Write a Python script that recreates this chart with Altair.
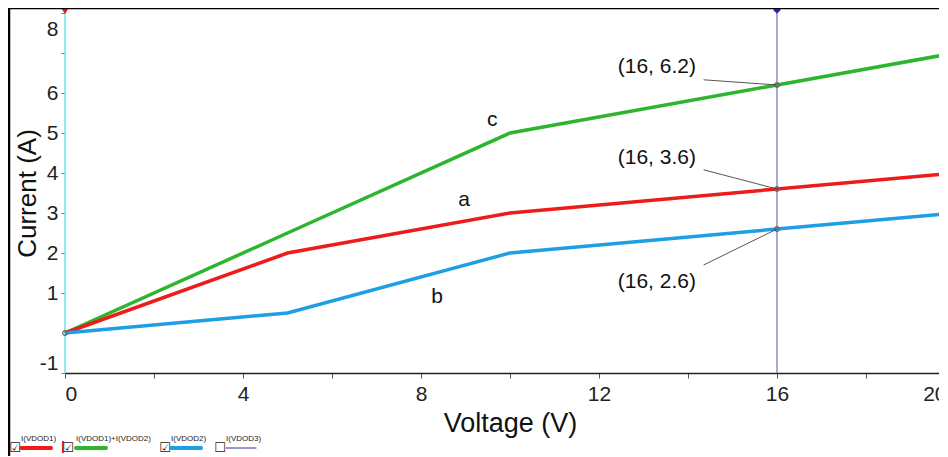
import altair as alt
import pandas as pd

# ---- data ----
voltage = [0, 5, 10, 16, 20]
current_a = [0, 2, 3, 3.6, 4]          # I(VDOD1)  -> curve "a"
current_b = [0, 0.5, 2, 2.6, 3]        # I(VDOD2)  -> curve "b"
current_c = [0, 2.5, 5, 6.2, 7]        # I(VDOD1)+I(VDOD2) -> curve "c"
series_names = ["I(VDOD1)+I(VDOD2)", "I(VDOD1)", "I(VDOD2)"]
series_colors = ["#2db52d", "#ee1b1b", "#1e9ee4"]
x_ticks = [0, 2, 4, 6, 8, 10, 12, 14, 16, 18, 20]
y_ticks = [-1, 1, 2, 3, 4, 5, 6, 7, 8]
cursor_v = [16]

# annotation texts (positions in data units)
ann_text = ["(16, 6.2)", "(16, 3.6)", "(16, 2.6)"]
ann_tx = [13.3, 13.3, 13.3]
ann_ty = [6.65, 4.38, 1.28]
ann_lx = [14.35, 14.35, 14.35]
ann_ly = [6.33, 4.08, 1.70]
ann_px = [16, 16, 16]
ann_py = [6.2, 3.6, 2.6]
curve_labels = ["c", "a", "b"]
curve_lx = [9.6, 8.97, 8.36]
curve_ly = [5.33, 3.33, 0.90]
marker_x = [0, 16, 16, 16]
marker_y = [0, 6.2, 3.6, 2.6]

FONT = "Liberation Sans"
W, H = 890, 360
xs = alt.Scale(domain=[0, 20], nice=False, zero=False)
ys = alt.Scale(domain=[-1, 8], nice=False, zero=False)

series_vals = [current_c, current_a, current_b]
layers = []

# cursor lines
cur0 = alt.Chart(pd.DataFrame({"V": [0]})).mark_rule(color="#6fe3ee", strokeWidth=1.5).encode(
    x=alt.X("V:Q", scale=xs, axis=alt.Axis(
        values=x_ticks, title="Voltage (V)",
        labelExpr="datum.value % 4 == 0 ? datum.label : ''",
        labelOffset={"condition": {"test": "datum.value == 20", "value": -9}, "value": 0},
        grid=False, domainColor="#222", domainWidth=1.5, tickColor="#555",
        tickSize=5, labelFontSize=21, labelColor="#222", labelPadding=5,
        titleFontSize=27, titleColor="#111", titleFontWeight="normal", titlePadding=6,
        labelFont=FONT, titleFont=FONT)),
    y=alt.value(0), y2=alt.value(H))
layers.append(cur0)

cur16 = alt.Chart(pd.DataFrame({"V": cursor_v})).mark_rule(color="#7d7dbf", strokeWidth=1.3).encode(
    x=alt.X("V:Q", scale=xs), y=alt.value(0), y2=alt.value(H))
layers.append(cur16)

for i, (name, vals, col) in enumerate(zip(series_names, series_vals, series_colors)):
    d = pd.DataFrame({"V": voltage, "I": vals})
    if i == 0:
        enc_y = alt.Y("I:Q", scale=ys, axis=alt.Axis(
            values=y_ticks, title="Current (A)",
            labelExpr="datum.value == 7 ? '' : (datum.value == -1 ? '-1' : datum.label)",
            domain=False, grid=False, tickColor="#777", tickSize=4,
            labelFontSize=21, labelColor="#222", labelPadding=3,
            labelOffset={"condition": [{"test": "datum.value == 8", "value": 16},
                                       {"test": "datum.value == -1", "value": -10}],
                         "value": 0},
            titleFontSize=26, titleColor="#111", titleFontWeight="normal",
            titleX=-38, titleY=H / 2, titleBaseline="middle", titleAlign="center",
            labelFont=FONT, titleFont=FONT))
    else:
        enc_y = alt.Y("I:Q", scale=ys)
    layers.append(alt.Chart(d).mark_line(color=col, strokeWidth=3.5).encode(
        x=alt.X("V:Q", scale=xs), y=enc_y))

# small gray cursor/probe markers
mk = pd.DataFrame({"x": marker_x, "y": marker_y})
layers.append(alt.Chart(mk).mark_point(shape="circle", size=22, color="#666",
                                       strokeWidth=1.2, filled=False, opacity=1).encode(
    x=alt.X("x:Q", scale=xs), y=alt.Y("y:Q", scale=ys)))

ann = pd.DataFrame({"t": ann_text, "tx": ann_tx, "ty": ann_ty, "lx": ann_lx,
                    "ly": ann_ly, "px": ann_px, "py": ann_py})
layers.append(alt.Chart(ann).mark_rule(color="#444", strokeWidth=0.9).encode(
    x=alt.X("lx:Q", scale=xs), y=alt.Y("ly:Q", scale=ys),
    x2="px:Q", y2="py:Q"))
layers.append(alt.Chart(ann).mark_text(font=FONT, fontSize=21, color="#111").encode(
    x=alt.X("tx:Q", scale=xs), y=alt.Y("ty:Q", scale=ys), text="t:N"))

cl = pd.DataFrame({"t": curve_labels, "x": curve_lx, "y": curve_ly})
layers.append(alt.Chart(cl).mark_text(font=FONT, fontSize=21, color="#111").encode(
    x=alt.X("x:Q", scale=xs), y=alt.Y("y:Q", scale=ys), text="t:N"))

# cursor markers at top
layers.append(alt.Chart(pd.DataFrame({"V": [0]})).mark_point(
    shape="triangle-down", filled=True, color="#e02020", size=60, opacity=1).encode(
    x=alt.X("V:Q", scale=xs), y=alt.value(-2)))
layers.append(alt.Chart(pd.DataFrame({"V": cursor_v})).mark_point(
    shape="diamond", filled=True, color="#2a2ab0", size=60, opacity=1).encode(
    x=alt.X("V:Q", scale=xs), y=alt.value(-3)))

# frame lines (pixel space)
frame = pd.DataFrame({"x": [-56, -56], "x2": [-56, W + 10], "y": [-5, -5], "y2": [445, -5]})
layers.append(alt.Chart(frame).mark_rule(color="#000", strokeWidth=2.5).encode(
    x=alt.X("x:Q", scale=None), x2="x2:Q", y=alt.Y("y:Q", scale=None), y2="y2:Q"))

# bottom legend strip (pixel space)
leg_names = ["I(VDOD1)", "I(VDOD1)+I(VDOD2)", "I(VDOD2)", "I(VDOD3)"]
leg_colors = ["#ee1b1b", "#2db52d", "#1e9ee4", "#333399"]
leg_box = ["\u2611", "\u2611", "\u2611", "\u2610"]
leg_bx = [-50, 3, 100, 155]
leg_tx = [-44, 11, 106, 161]
leg_lw = [4, 4, 4, 1]
ld = pd.DataFrame({"n": leg_names, "c": leg_colors, "b": leg_box, "bx": leg_bx,
                   "tx": leg_tx, "tx2": [t + 30 for t in leg_tx], "lw": leg_lw})
layers.append(alt.Chart(ld).mark_text(font="DejaVu Sans", fontSize=13, color="#222",
                                      baseline="middle").encode(
    x=alt.X("bx:Q", scale=None), y=alt.value(435), text="b:N"))
layers.append(alt.Chart(ld).mark_text(font=FONT, fontSize=8, color="#222", align="left",
                                      baseline="middle").encode(
    x=alt.X("tx:Q", scale=None), y=alt.value(426), text="n:N"))
layers.append(alt.Chart(ld).mark_rule(strokeCap="round").encode(
    x=alt.X("tx:Q", scale=None), x2="tx2:Q", y=alt.value(435),
    color=alt.Color("c:N", scale=None), strokeWidth=alt.StrokeWidth("lw:Q", scale=None)))
layers.append(alt.Chart(pd.DataFrame({"x": [-2]})).mark_rule(color="#e02020", strokeWidth=2).encode(
    x=alt.X("x:Q", scale=None), y=alt.value(428), y2=alt.value(440)))

chart = alt.layer(*layers).properties(
    width=W, height=H,
    padding={"left": 57, "top": 5, "right": -16, "bottom": 83},
    autosize=alt.AutoSizeParams(type="none"),
    background="white",
).configure_view(stroke=None)

chart.save("out.html", embed_options={"renderer": "svg", "actions": False})
